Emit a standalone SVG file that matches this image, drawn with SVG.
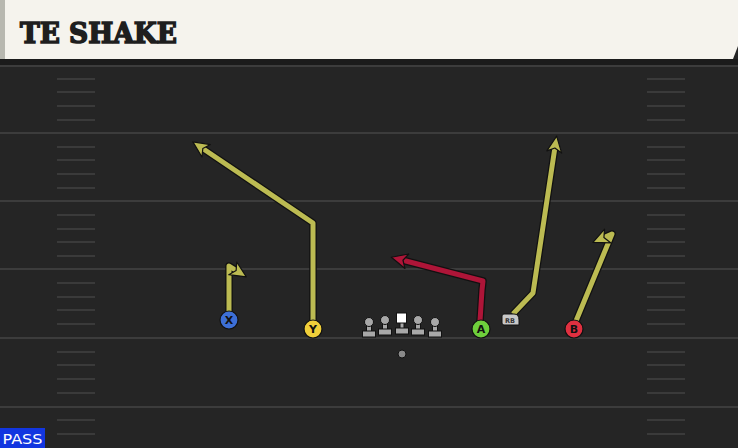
<svg xmlns="http://www.w3.org/2000/svg" width="738" height="448" viewBox="0 0 738 448">
<defs>
<style>
.fl{stroke:#3c3c3c;stroke-width:2}
.hs{stroke:#3a3a3a;stroke-width:2}
.pl{stroke:#111;stroke-width:1.2}
.lb{font-family:"DejaVu Sans",sans-serif;font-weight:bold;font-size:11px;fill:#111;text-anchor:middle}
.ln{fill:#a8a8a8;stroke:#111;stroke-width:1}
</style>
<marker id="ay" viewBox="0 0 18 18" refX="6" refY="9" markerWidth="18" markerHeight="18" orient="auto" markerUnits="userSpaceOnUse">
<path d="M1,1.5 L17,9 L1,16.5 L5,9 Z" fill="#bcbb52" stroke="#111" stroke-width="1.2" stroke-linejoin="round"/>
</marker>
<marker id="ar" viewBox="0 0 18 18" refX="6" refY="9" markerWidth="18" markerHeight="18" orient="auto" markerUnits="userSpaceOnUse">
<path d="M1,1.5 L17,9 L1,16.5 L5,9 Z" fill="#ae1538" stroke="#111" stroke-width="1.2" stroke-linejoin="round"/>
</marker>
<g id="lm"><rect x="-2.5" y="-13" width="5" height="10"/><circle cx="0" cy="-14" r="4.5"/><rect x="-6.5" y="-5" width="13" height="6"/></g>
</defs>
<rect width="738" height="448" fill="#252525"/>
<g id="field">
<rect x="0" y="59" width="738" height="6" fill="#1b1b1b"/>
<line class="fl" x1="0" y1="66" x2="738" y2="66"/>
<line class="fl" x1="0" y1="133" x2="738" y2="133"/>
<line class="fl" x1="0" y1="201" x2="738" y2="201"/>
<line class="fl" x1="0" y1="269" x2="738" y2="269"/>
<line class="fl" x1="0" y1="338" x2="738" y2="338"/>
<line class="fl" x1="0" y1="407" x2="738" y2="407"/>
<g class="hs">
<path d="M57,79H95M57,92H95M57,106H95M57,120H95M57,147H95M57,160H95M57,174H95M57,188H95M57,215H95M57,229H95M57,242H95M57,256H95M57,283H95M57,297H95M57,310H95M57,324H95M57,352H95M57,365H95M57,379H95M57,393H95M57,420H95M57,434H95"/>
<path d="M647,79H685M647,92H685M647,106H685M647,120H685M647,147H685M647,160H685M647,174H685M647,188H685M647,215H685M647,229H685M647,242H685M647,256H685M647,283H685M647,297H685M647,310H685M647,324H685M647,352H685M647,365H685M647,379H685M647,393H685M647,420H685M647,434H685"/>
</g>
</g>
<g id="header">
<path d="M0,0H738V46L733,59H0Z" fill="#f5f3ed"/>
<rect x="0" y="0" width="5" height="59" fill="#b8b8b0"/>
<text x="20" y="43" font-family="'DejaVu Serif',serif" font-weight="900" font-size="28" textLength="157" lengthAdjust="spacingAndGlyphs" fill="#1e1e1e" stroke="#1e1e1e" stroke-width="1.6">TE SHAKE</text>
</g>
<g id="connectors" fill="none" stroke-linejoin="round">
<g stroke="#111" stroke-width="7.5">
<polyline points="229,312 229,266 237,271"/>
<polyline points="313,321 313,223 202,148"/>
<polyline points="480,321 482,290 483,281 402,260"/>
<polyline points="513,314 533,293 555,147"/>
<polyline points="576,321 612,234 603,238"/>
</g>
<g stroke="#bcbb52" stroke-width="5">
<polyline points="229,312 229,266 237,271" marker-end="url(#ay)"/>
<polyline points="313,321 313,223 202,148" marker-end="url(#ay)"/>
<polyline points="513,314 533,293 555,147" marker-end="url(#ay)"/>
<polyline points="576,321 612,234 603,238" marker-end="url(#ay)"/>
</g>
<polyline stroke="#ae1538" stroke-width="5" points="480,321 482,290 483,281 402,260" marker-end="url(#ar)"/>
</g>
<g id="line">
<use href="#lm" x="369" y="336" class="ln"/>
<use href="#lm" x="385" y="334" class="ln"/>
<g id="center"><rect x="400" y="320" width="4" height="9" fill="#a8a8a8" stroke="#111"/><rect x="396.5" y="313" width="10" height="10" fill="#fff" stroke="#111"/><rect x="395.5" y="328" width="13" height="6" fill="#a8a8a8" stroke="#111"/></g>
<use href="#lm" x="418" y="334" class="ln"/>
<use href="#lm" x="435" y="336" class="ln"/>
<circle id="ball" cx="402" cy="354" r="4" fill="#8a8a8a" stroke="#111"/>
</g>
<g id="X"><circle cx="229" cy="320" r="9" fill="#3d6fd6" class="pl"/><text class="lb" x="229" y="324">X</text></g>
<g id="Y"><circle cx="313" cy="329" r="9" fill="#f0cf3a" class="pl"/><text class="lb" x="313" y="333">Y</text></g>
<g id="A"><circle cx="481" cy="329" r="9" fill="#6ecf3c" class="pl"/><text class="lb" x="481" y="333">A</text></g>
<g id="B"><circle cx="574" cy="329" r="9" fill="#e03040" class="pl"/><text class="lb" x="574" y="333">B</text></g>
<g id="RB"><path d="M502,316 Q502,314 504,314 H514 Q519,314 519,320 V325 H504 Q502,325 502,323 Z" fill="#c8c8c8" stroke="#111"/><text x="510" y="323" font-family="'DejaVu Sans',sans-serif" font-weight="bold" font-size="6.5" fill="#333" text-anchor="middle">RB</text></g>
<g id="pass"><rect x="0" y="428" width="45" height="20" fill="#1236e0"/><text x="22.5" y="444" font-family="'DejaVu Sans',sans-serif" font-size="14" textLength="40" lengthAdjust="spacingAndGlyphs" fill="#fff" text-anchor="middle">PASS</text></g>
</svg>
